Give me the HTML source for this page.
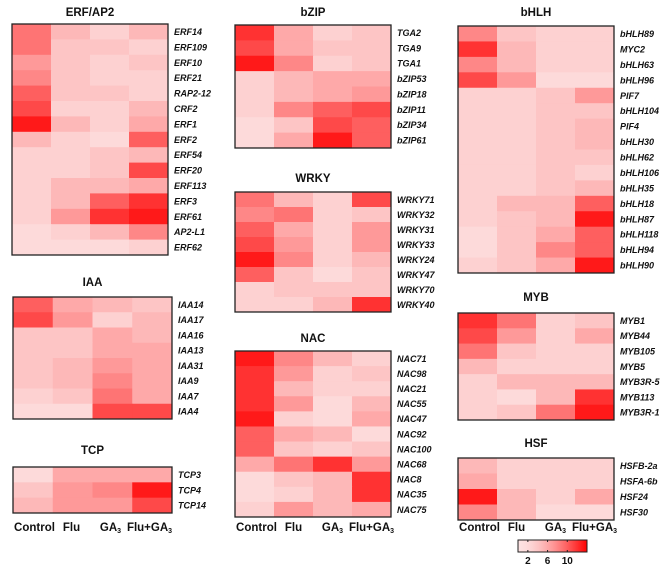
<!DOCTYPE html>
<html><head><meta charset="utf-8"><style>
html,body{margin:0;padding:0;background:#fff;}
svg{display:block;font-family:"Liberation Sans",Arial,sans-serif;}
</style></head><body>
<svg id="fig" width="669" height="583" viewBox="0 0 669 583" xmlns="http://www.w3.org/2000/svg"></svg>
<script>
const treatments = ["Control","Flu","GA3","Flu+GA3"];
const erfGenes = ["ERF14","ERF109","ERF10","ERF21","RAP2-12","CRF2","ERF1","ERF2","ERF54","ERF20","ERF113","ERF3","ERF61","AP2-L1","ERF62"];
const erfValues = [[9,5,3,5],[9,4,4,3],[7,4,3,4],[8,4,3,3],[10,4,4,3],[11,3,3,5],[13,5,3,6],[5,3,2,10],[3,3,4,5],[3,3,4,11],[3,5,5,6],[3,5,10,12],[3,7,12,13],[2,3,5,8],[2,2,2,3]];
const iaaGenes = ["IAA14","IAA17","IAA16","IAA13","IAA31","IAA9","IAA7","IAA4"];
const iaaValues = [[10,6,5,4],[11,7,3,5],[4,4,6,5],[4,4,6,6],[4,5,7,6],[4,5,8,6],[3,4,9,6],[2,2,11,11]];
const tcpGenes = ["TCP3","TCP4","TCP14"];
const tcpValues = [[2,6,6,6],[4,7,8,13],[5,7,7,11]];
const bzipGenes = ["TGA2","TGA9","TGA1","bZIP53","bZIP18","bZIP11","bZIP34","bZIP61"];
const bzipValues = [[12,6,3,4],[11,6,4,4],[13,8,3,4],[3,5,6,6],[3,5,6,7],[3,8,10,11],[2,4,11,10],[2,6,13,10]];
const wrkyGenes = ["WRKY71","WRKY32","WRKY31","WRKY33","WRKY24","WRKY47","WRKY70","WRKY40"];
const wrkyValues = [[9,5,3,11],[8,9,3,4],[10,6,3,7],[11,7,3,7],[13,8,3,5],[10,4,2,4],[3,4,4,4],[3,3,5,12]];
const nacGenes = ["NAC71","NAC98","NAC21","NAC55","NAC47","NAC92","NAC100","NAC68","NAC8","NAC35","NAC75"];
const nacValues = [[13,8,5,3],[12,7,3,4],[12,5,3,3],[12,7,2,5],[13,3,2,6],[10,6,5,2],[10,4,3,4],[6,9,12,7],[2,4,5,12],[2,3,5,12],[3,7,5,6]];
const bhlhGenes = ["bHLH89","MYC2","bHLH63","bHLH96","PIF7","bHLH104","PIF4","bHLH30","bHLH62","bHLH106","bHLH35","bHLH18","bHLH87","bHLH118","bHLH94","bHLH90"];
const bhlhValues = [[8,4,3,3],[12,5,3,3],[8,5,3,3],[11,7,2,2],[3,3,4,7],[3,3,4,4],[3,3,4,5],[3,3,4,5],[3,3,4,4],[3,3,4,3],[3,3,4,5],[3,5,5,10],[3,4,5,13],[2,4,6,10],[2,4,8,10],[3,4,6,13]];
const mybGenes = ["MYB1","MYB44","MYB105","MYB5","MYB3R-5","MYB113","MYB3R-1"];
const mybValues = [[12,9,3,4],[11,7,3,6],[9,4,3,3],[5,3,3,3],[3,5,5,5],[3,2,5,12],[3,4,9,13]];
const hsfGenes = ["HSFB-2a","HSFA-6b","HSF24","HSF30"];
const hsfValues = [[5,3,3,3],[6,3,3,3],[13,5,3,6],[8,5,2,2]];
const legendTicks = [2,6,10];
const scaleMin = 0, scaleMax = 14;

const NS="http://www.w3.org/2000/svg";
const svg=document.getElementById('fig');
function mk(t,a){const e=document.createElementNS(NS,t);for(const k in a)e.setAttribute(k,a[k]);svg.appendChild(e);return e;}
function color(v){let t=(v-scaleMin)/(scaleMax-scaleMin);t=Math.max(0,Math.min(1,t));t=Math.pow(t,1.6);
  const r=Math.round(253+(255-253)*t),g=Math.round(228*(1-t)),b=Math.round(228*(1-t));return `rgb(${r},${g},${b})`;}

const layout=[
 {key:"erf-ap2",title:"ERF/AP2",genes:erfGenes,vals:erfValues,x:12,y:24,w:156,h:231,ty:16},
 {key:"iaa",title:"IAA",genes:iaaGenes,vals:iaaValues,x:13,y:297,w:159,h:122,ty:286},
 {key:"tcp",title:"TCP",genes:tcpGenes,vals:tcpValues,x:13,y:467,w:159,h:46,ty:454},
 {key:"bzip",title:"bZIP",genes:bzipGenes,vals:bzipValues,x:235,y:25,w:156,h:123,ty:16},
 {key:"wrky",title:"WRKY",genes:wrkyGenes,vals:wrkyValues,x:235,y:192,w:156,h:120,ty:182},
 {key:"nac",title:"NAC",genes:nacGenes,vals:nacValues,x:235,y:351,w:156,h:166,ty:342},
 {key:"bhlh",title:"bHLH",genes:bhlhGenes,vals:bhlhValues,x:458,y:26,w:156,h:247,ty:16},
 {key:"myb",title:"MYB",genes:mybGenes,vals:mybValues,x:458,y:313,w:156,h:107,ty:301},
 {key:"hsf",title:"HSF",genes:hsfGenes,vals:hsfValues,x:458,y:458,w:156,h:62,ty:447}
];
layout.forEach(p=>{
  const n=p.genes.length, cw=p.w/treatments.length, rh=p.h/n;
  const xs=j=>p.x+j*cw, ys=i=>p.y+i*rh;
  const t=mk('text',{x:p.x+p.w/2,y:p.ty,'text-anchor':'middle','font-size':'11.5','font-weight':'bold',fill:'#111'});
  t.textContent=p.title;
  
  
  p.vals.forEach((row,i)=>{
    row.forEach((v,j)=>{
      const r=mk('rect',{x:xs(j),y:ys(i),width:cw+0.5,height:rh+0.5,fill:color(v)});
      
      
    });
    const l=mk('text',{x:p.x+p.w+6,y:ys(i)+rh/2+3.3,'font-size':'9','font-weight':'bold','font-style':'italic',fill:'#111'});
    l.textContent=p.genes[i];
    
    
  });
  const b=mk('rect',{x:p.x,y:p.y,width:p.w,height:p.h,fill:'none',stroke:'#222','stroke-width':'1.3'});
  
  
});
[13,235,458].forEach(x0=>{
  treatments.forEach((tr,j)=>{
    const t=mk('text',{x:x0+j*39+19.5+(j==0?2:0),y:531,'text-anchor':'middle','font-size':'11.5','font-weight':'bold',fill:'#111'});
    if(tr==="GA3"){t.innerHTML='GA<tspan font-size="7" dy="2">3</tspan>';}
    else if(tr==="Flu+GA3"){t.innerHTML='Flu+GA<tspan font-size="7" dy="2">3</tspan>';}
    else t.textContent=tr;
    
    
  });
});
const lg=mk('defs',{});
let stops='';for(let k=0;k<=10;k++){stops+='<stop offset="'+(k/10)+'" stop-color="'+color(scaleMin+(scaleMax-scaleMin)*k/10)+'"/>';}
lg.innerHTML='<linearGradient id="lgG" x1="0" x2="1">'+stops+'</linearGradient>';
const lx=518,lw=69,ly=540,lh=12;
const lr=mk('rect',{x:lx,y:ly,width:lw,height:lh,fill:'url(#lgG)',stroke:'#222','stroke-width':'1'});


const lxs=v=>lx+lw*(v-scaleMin)/(scaleMax-scaleMin);
legendTicks.forEach(v=>{
  mk('line',{x1:lxs(v),x2:lxs(v),y1:ly,y2:ly+2,stroke:'#222'});
  mk('line',{x1:lxs(v),x2:lxs(v),y1:ly+lh-2,y2:ly+lh,stroke:'#222'});
  const t=mk('text',{x:lxs(v),y:ly+lh+12,'text-anchor':'middle','font-size':'10','font-weight':'bold',fill:'#111'});
  t.textContent=v;
  
  
});
</script>
</body></html>
